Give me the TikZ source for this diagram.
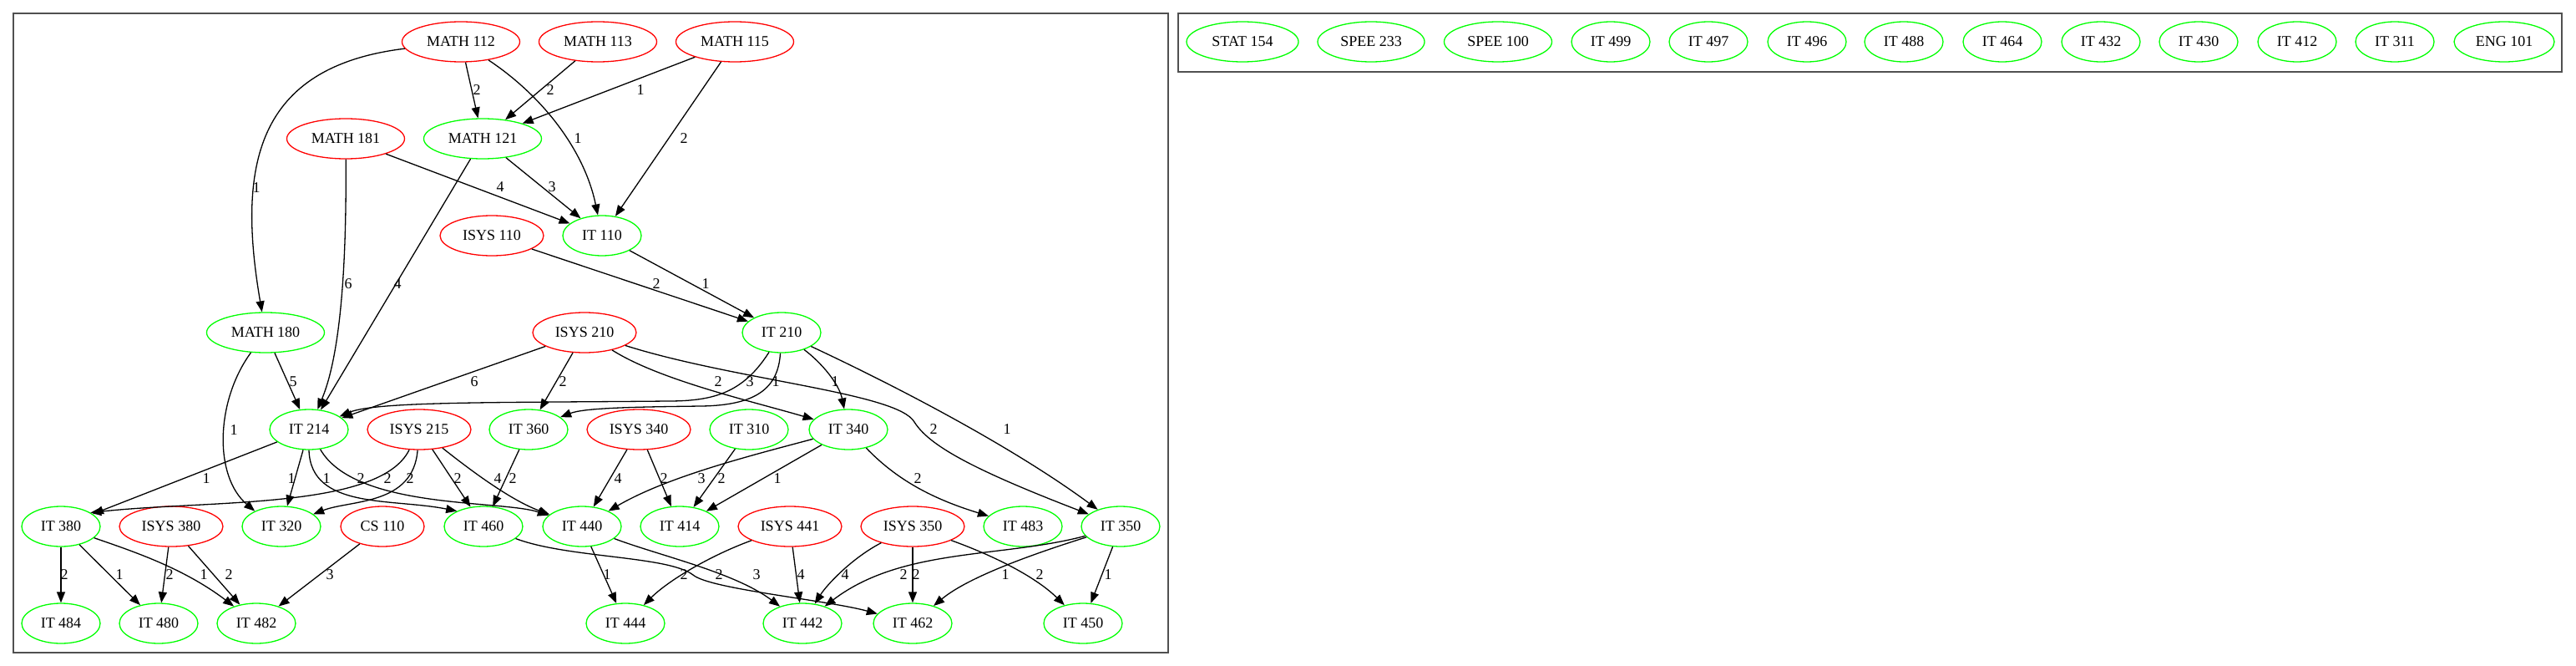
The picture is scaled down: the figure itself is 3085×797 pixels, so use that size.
\documentclass[tikz,border=0pt]{standalone}
\usepackage{fontspec}
\setmainfont{Liberation Serif}
\usepackage{tikz}
\usetikzlibrary{arrows.meta,shapes.geometric}

\definecolor{gvred}{RGB}{255,0,0}
\definecolor{gvgreen}{RGB}{0,255,0}
\definecolor{framegray}{RGB}{80,80,80}

\tikzset{
    course/.style={ellipse, draw, line width=1.3pt, inner sep=0pt,
        minimum height=48pt, font=\fontsize{18}{20}\selectfont},
    rednode/.style={course, draw=gvred},
    greennode/.style={course, draw=gvgreen},
    prereq/.style={-{Triangle[length=13pt,width=10pt]}, line width=1.3pt},
    wt/.style={inner sep=0pt, font=\fontsize{18}{20}\selectfont},
    frame/.style={draw=framegray, line width=2pt},
}

\begin{document}
\begin{tikzpicture}[x=1pt, y=-1pt]

\useasboundingbox (0,0) rectangle (3085,797);

\draw[frame] (16,16) rectangle (1399,781);
\draw[frame] (1411,16) rectangle (3068,86);

    \foreach \n/\x/\y/\t/\w in {
m112/552/50/MATH 112/141,
m113/716/50/MATH 113/141,
m115/880/50/MATH 115/141,
m181/414/166/MATH 181/141,
isys110/589/282/ISYS 110/124,
isys210/700/398/ISYS 210/124,
isys215/502/514/ISYS 215/124,
isys340/765/514/ISYS 340/124,
isys380/205/630/ISYS 380/124,
cs110/458/630/CS 110/100,
isys441/946/630/ISYS 441/124,
isys350/1093/630/ISYS 350/124
}
{
    \node[rednode, minimum width=\w pt] (\n) at (\x,\y) {\t};
}

    \foreach \n/\x/\y/\t/\w in {
m121/578/166/MATH 121/141,
it110/721/282/IT 110/94,
m180/318/398/MATH 180/141,
it210/936/398/IT 210/94,
it214/370/514/IT 214/94,
it360/633/514/IT 360/94,
it310/897/514/IT 310/94,
it340/1016/514/IT 340/94,
it380/73/630/IT 380/94,
it320/337/630/IT 320/94,
it460/579/630/IT 460/94,
it440/697/630/IT 440/94,
it414/814/630/IT 414/94,
it483/1225/630/IT 483/94,
it350/1342/630/IT 350/94,
it484/73/746/IT 484/94,
it480/190/746/IT 480/94,
it482/307/746/IT 482/94,
it444/749/746/IT 444/94,
it442/961/746/IT 442/94,
it462/1093/746/IT 462/94,
it450/1297/746/IT 450/94,
stat154/1488/50/STAT 154/134,
spee233/1642/50/SPEE 233/128,
spee100/1794/50/SPEE 100/129,
it499/1929/50/IT 499/94,
it497/2046/50/IT 497/94,
it496/2164/50/IT 496/94,
it488/2280/50/IT 488/94,
it464/2398/50/IT 464/94,
it432/2516/50/IT 432/94,
it430/2633/50/IT 430/94,
it412/2751/50/IT 412/94,
it311/2868/50/IT 311/94,
eng101/2999/50/ENG 101/120
}
{
    \node[greennode, minimum width=\w pt] (\n) at (\x,\y) {\t};
}

% straight prerequisites
    \foreach \a/\b/\w/\lx/\ly in {
m112/m121/2/571/108,
m113/m121/2/659/108,
m115/m121/1/767/108,
m115/it110/2/819/166,
m181/it110/4/599/224,
m121/it110/3/661/224,
m121/it214/4/476/340,
isys110/it210/2/786/340,
it110/it210/1/845/340,
m180/it214/5/351/457,
isys210/it214/6/568/457,
isys210/it360/2/674/457,
it214/it380/1/247/573,
it214/it320/1/349/573,
isys215/it460/2/548/573,
it360/it460/2/614/573,
isys340/it440/4/740/573,
isys340/it414/2/795/573,
it310/it414/2/864/573,
it340/it414/1/931/573,
it380/it484/2/77/688,
it380/it480/1/143/688,
isys380/it480/2/203/688,
isys380/it482/2/274/688,
cs110/it482/3/395/688,
it440/it444/1/727/688,
isys441/it442/4/959/688,
isys350/it462/2/1097/688,
it350/it450/1/1327/688
}
{
    \draw[prereq] (\a) -- (\b) node[wt] at (\lx,\ly) {\w};
}

% curved prerequisites
\draw[prereq] (m112) .. controls (305,80) and (284,200) .. (m180) node[wt] at (307,225) {1};
\draw[prereq] (m112) .. controls (650,115) and (700,180) .. (it110) node[wt] at (692,166) {1};
\draw[prereq] (m181) .. controls (415,300) and (410,420) .. (it214) node[wt] at (417,340) {6};
\draw[prereq] (m180) .. controls (258,480) and (256,570) .. (it320.150) node[wt] at (280,515) {1};

\draw[prereq] (isys210) .. controls (790,455) and (900,480) .. (it340) node[wt] at (860,457) {2};
\draw[prereq] (isys210) .. controls (880,455) and (1075,470) .. (1095,505)
    .. controls (1112,532) and (1160,560) .. (it350) node[wt] at (1118,514) {2};
\draw[prereq] (it210) .. controls (890,470) and (855,480) .. (800,480)
    .. controls (600,482) and (450,480) .. (it214) node[wt] at (898,457) {3};
\draw[prereq] (it210) .. controls (932,465) and (905,485) .. (840,486)
    .. controls (760,487) and (700,488) .. (it360) node[wt] at (929,457) {1};
\draw[prereq] (it210) .. controls (985,435) and (1005,460) .. (it340) node[wt] at (1000,457) {1};
\draw[prereq] (it210) .. controls (1090,470) and (1220,540) .. (it350) node[wt] at (1206,514) {1};

\draw[prereq] (it214.south) .. controls (372,610) and (470,596) .. (it460.150) node[wt] at (391,573) {1};
\draw[prereq] (it214) .. controls (425,610) and (600,598) .. (it440) node[wt] at (432,573) {2};
\draw[prereq] (isys215) .. controls (455,610) and (250,598) .. (it380.25) node[wt] at (464,573) {2};
\draw[prereq] (isys215) .. controls (495,605) and (420,598) .. (it320) node[wt] at (491,573) {2};
\draw[prereq] (isys215) .. controls (560,560) and (610,598) .. (it440) node[wt] at (596,573) {4};
\draw[prereq] (it340) .. controls (900,545) and (800,570) .. (it440) node[wt] at (840,573) {3};
\draw[prereq] (it340) .. controls (1070,570) and (1110,595) .. (it483) node[wt] at (1099,573) {2};

\draw[prereq] (it380) .. controls (160,660) and (220,680) .. (it482) node[wt] at (244,688) {1};
\draw[prereq] (it460) .. controls (680,668) and (800,665) .. (830,688)
    .. controls (850,705) and (990,718) .. (it462) node[wt] at (861,688) {2};
\draw[prereq] (it440) .. controls (790,665) and (880,685) .. (it442) node[wt] at (906,688) {3};
\draw[prereq] (isys441) .. controls (850,665) and (800,695) .. (it444) node[wt] at (819,688) {2};
\draw[prereq] (isys350) .. controls (1020,668) and (990,700) .. (it442) node[wt] at (1012,688) {4};
\draw[prereq] (isys350) .. controls (1190,665) and (1240,690) .. (it450) node[wt] at (1245,688) {2};
\draw[prereq] (it350) .. controls (1200,668) and (1080,655) .. (it442) node[wt] at (1082,688) {2};
\draw[prereq] (it350) .. controls (1240,662) and (1160,690) .. (it462) node[wt] at (1204,688) {1};

\end{tikzpicture}
\end{document}
